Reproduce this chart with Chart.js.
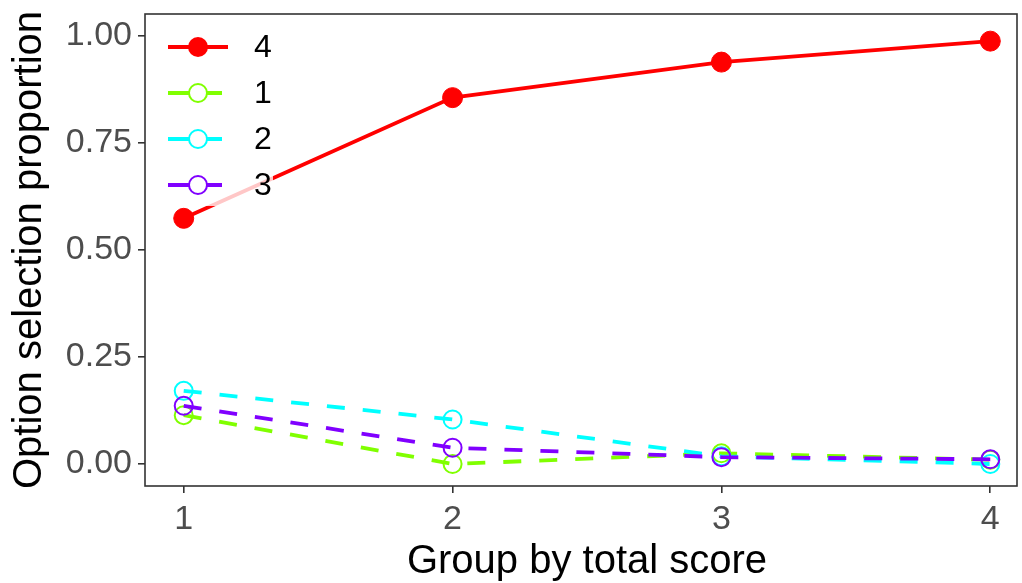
<!DOCTYPE html>
<html>
<head>
<meta charset="utf-8">
<script src="https://cdn.jsdelivr.net/npm/chart.js@4/dist/chart.umd.min.js"></script>
<style>
    body { margin: 0; background: #ffffff; }
    #wrap { width: 1022px; height: 583px; }
</style>
</head>
<body>
<div id="wrap"><canvas id="option-chart" width="1022" height="583"></canvas></div>
<script>
const groups = [1, 2, 3, 4];
const yTicks = [0, 0.25, 0.5, 0.75, 1];

const option4 = [0.574, 0.856, 0.939, 0.988];
const option1 = [0.114, 0.0, 0.025, 0.010];
const option2 = [0.171, 0.104, 0.018, 0.0];
const option3 = [0.136, 0.038, 0.016, 0.011];

const seriesLabels = ['4', '1', '2', '3'];
const seriesValues = [option4, option1, option2, option3];
const seriesColors = ['#FF0000', '#80FF00', '#00FFFF', '#8000FF'];
const seriesOrder = [0, 3, 2, 1];

const xTitle = 'Group by total score';
const yTitle = 'Option selection proportion';

const fontName = '"Liberation Sans", Arial, sans-serif';

const datasets = seriesLabels.map((label, i) => {
    const filled = i === 0;
    return {
        label: label,
        data: groups.map((g, j) => ({ x: g, y: seriesValues[i][j] })),
        borderColor: seriesColors[i],
        backgroundColor: seriesColors[i],
        borderWidth: 3.8,
        borderDash: filled ? [] : [18, 18],
        pointRadius: filled ? 10 : 9,
        pointBorderWidth: filled ? 1 : 2,
        pointBackgroundColor: filled ? seriesColors[i] : 'rgba(0,0,0,0)',
        pointBorderColor: seriesColors[i],
        order: seriesOrder[i],
        tension: 0
    };
});

// drop the extra room chart.js keeps for half-labels at the ends
function noScalePadding(scale) {
    scale.paddingTop = 0;
    scale.paddingBottom = 0;
    scale.paddingLeft = 0;
    scale.paddingRight = 0;
}

// panel border + legend sitting inside the panel (ggplot style)
const panelPlugin = {
    id: 'panel',
    afterDatasetsDraw(chart) {
        const ctx = chart.ctx;
        const area = chart.chartArea;
        ctx.save();

        // legend box, semi transparent
        ctx.fillStyle = 'rgba(255,255,255,0.78)';
        ctx.fillRect(area.left, area.top, 128, 192);

        const rowY = [47, 93, 139, 185];
        chart.data.datasets.forEach((ds, i) => {
            const y = rowY[i];
            ctx.strokeStyle = ds.borderColor;
            ctx.lineWidth = ds.borderWidth;
            ctx.setLineDash([]);
            ctx.beginPath();
            ctx.moveTo(168, y);
            ctx.lineTo(i === 0 ? 228 : 222, y);
            ctx.stroke();

            ctx.beginPath();
            ctx.arc(198, y, ds.pointRadius, 0, Math.PI * 2);
            if (i === 0) {
                ctx.fillStyle = ds.pointBackgroundColor;
                ctx.fill();
            } else {
                ctx.fillStyle = '#ffffff';
                ctx.fill();
                ctx.lineWidth = ds.pointBorderWidth;
                ctx.stroke();
            }

            ctx.fillStyle = '#000000';
            ctx.font = '32px ' + fontName;
            ctx.textAlign = 'left';
            ctx.textBaseline = 'middle';
            ctx.fillText(ds.label, 254, y + 1);
        });

        ctx.strokeStyle = '#333333';
        ctx.lineWidth = 1.6;
        ctx.strokeRect(area.left, area.top, 1017 - area.left, area.bottom - area.top);

        // x axis title, centred on the full panel
        ctx.fillStyle = '#000000';
        ctx.font = '40px ' + fontName;
        ctx.textAlign = 'center';
        ctx.textBaseline = 'middle';
        ctx.fillText(xTitle, 587, 562);
        ctx.restore();
    }
};

const tickStyle = {
    color: '#4d4d4d',
    font: { family: fontName, size: 34 }
};

new Chart(document.getElementById('option-chart'), {
    type: 'line',
    data: { datasets: datasets },
    options: {
        responsive: false,
        animation: false,
        layout: { padding: { top: 14, right: 5, left: 0, bottom: 0 } },
        plugins: {
            legend: { display: false },
            tooltip: { enabled: false }
        },
        scales: {
            x: {
                type: 'linear',
                min: 0.856,
                max: 4.077,
                afterBuildTicks: (scale) => {
                    scale.ticks = groups.map(v => ({ value: v }));
                },
                afterFit: (scale) => {
                    scale.height = 97;
                    noScalePadding(scale);
                },
                ticks: Object.assign({ padding: 6, maxRotation: 0, callback: v => String(v) }, tickStyle),
                grid: { drawOnChartArea: false, drawTicks: true, tickLength: 7, color: '#333333', lineWidth: 1.6 },
                border: { display: false },
                title: { display: false }
            },
            y: {
                min: -0.0514,
                max: 1.0514,
                afterBuildTicks: (scale) => {
                    scale.ticks = yTicks.map(v => ({ value: v }));
                },
                afterFit: (scale) => {
                    scale.width = 145;
                    noScalePadding(scale);
                },
                ticks: Object.assign({ padding: 6, callback: v => v.toFixed(2) }, tickStyle),
                grid: { drawOnChartArea: false, drawTicks: true, tickLength: 7, color: '#333333', lineWidth: 1.6 },
                border: { display: false },
                title: {
                    display: true,
                    text: yTitle,
                    color: '#000000',
                    font: { family: fontName, size: 40, lineHeight: 1 },
                    padding: { top: 10, bottom: 0 }
                }
            }
        }
    },
    plugins: [panelPlugin]
});
</script>
</body>
</html>
